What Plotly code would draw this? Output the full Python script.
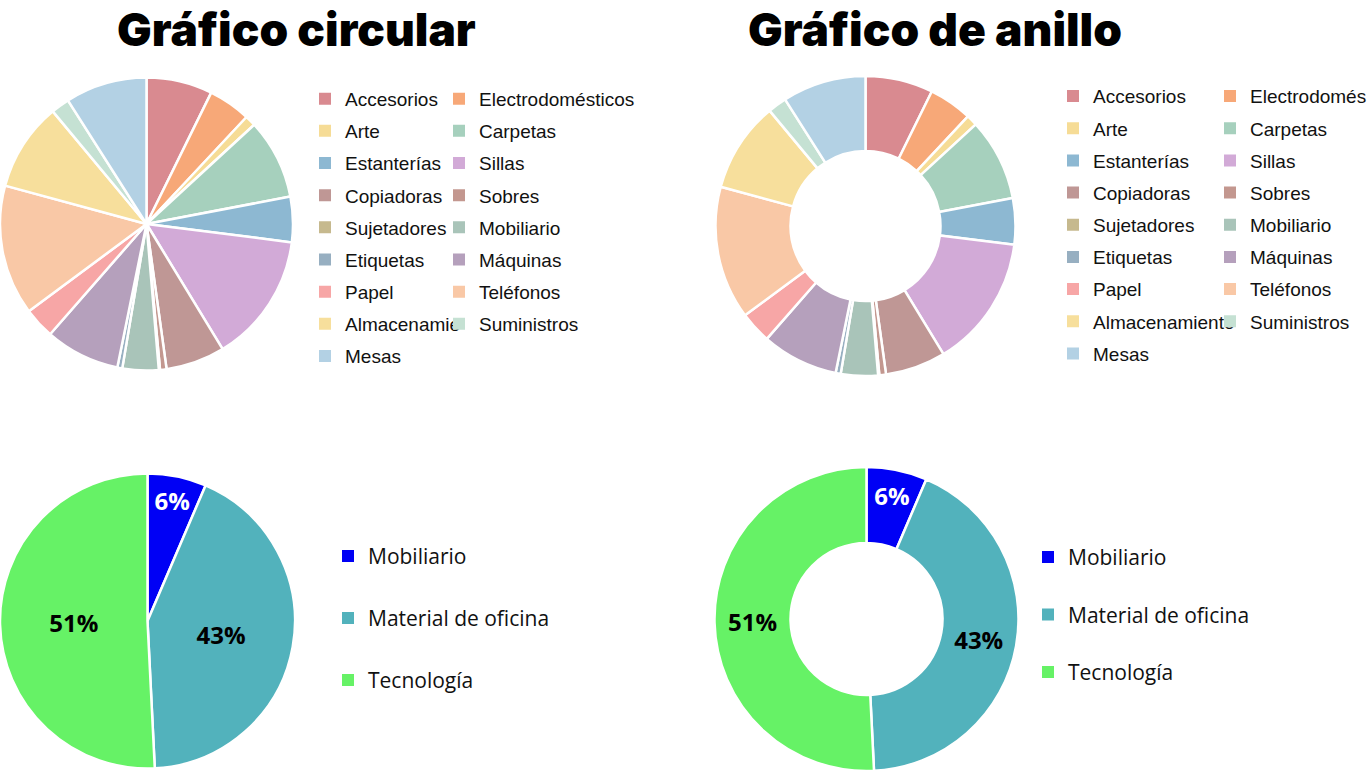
import plotly.graph_objects as go

W, H = 1369, 784

# ---------------- data ----------------
categories = ["Accesorios", "Electrodomésticos", "Arte", "Carpetas", "Estanterías",
              "Sillas", "Copiadoras", "Sobres", "Sujetadores", "Mobiliario",
              "Etiquetas", "Máquinas", "Papel", "Teléfonos", "Almacenamiento",
              "Suministros", "Mesas"]
sales = [167380, 107532, 27119, 203413, 114880, 328449, 149528, 16476, 3024,
         91705, 12486, 189239, 78479, 330007, 223844, 46674, 206966]
category_colors = ["#d98a90", "#f7a878", "#f6dc96", "#a6d0bd", "#8db8d2",
                   "#d2aad7", "#bf9795", "#c3978f", "#c6b98e", "#a9c4b9",
                   "#97afc1", "#b5a0bc", "#f7a6a6", "#f9c8a6", "#f7df9c",
                   "#c5e1d3", "#b3d1e4"]
# legend texts as they appear (cut by the column width / page edge)
legend_text_pie = ["Accesorios", "Electrodomésticos", "Arte", "Carpetas", "Estanterías",
                   "Sillas", "Copiadoras", "Sobres", "Sujetadores", "Mobiliario",
                   "Etiquetas", "Máquinas", "Papel", "Teléfonos", "Almacenamie",
                   "Suministros", "Mesas"]
legend_text_donut = ["Accesorios", "Electrodomés", "Arte", "Carpetas", "Estanterías",
                     "Sillas", "Copiadoras", "Sobres", "Sujetadores", "Mobiliario",
                     "Etiquetas", "Máquinas", "Papel", "Teléfonos", "Almacenamiento",
                     "Suministros", "Mesas"]

groups = ["Mobiliario", "Material de oficina", "Tecnología"]
profit = [18451, 122491, 145455]
group_colors = ["#0000f5", "#52b2bc", "#66f266"]
group_text_colors = ["white", "black", "black"]

titles = ["Gráfico circular", "Gráfico de anillo"]

# ---------------- helpers ----------------
def px_domain(cx, cy, r):
    """domain (paper fractions) for a pie centred at pixel (cx, cy) with radius r"""
    return dict(x=[max(0, (cx - r) / W), min(1, (cx + r) / W)],
                y=[max(0, 1 - (cy + r) / H), min(1, 1 - (cy - r) / H)])

def tiny_domain(cx, cy):
    fx, fy = cx / W, 1 - cy / H
    return dict(x=[fx - 1e-5, fx + 1e-5], y=[fy - 1e-5, fy + 1e-5])

def legend_entries(labels, values, colors, legend_id, cx, cy, prefix):
    out = []
    for i, (lab, val, col) in enumerate(zip(labels, values, colors)):
        out.append(go.Pie(labels=[lab], values=[val],
                          marker=dict(colors=[col], line=dict(width=0)),
                          domain=tiny_domain(cx, cy), textinfo="none",
                          hoverinfo="skip", sort=False, showlegend=True,
                          legend=legend_id, legendgroup=f"{prefix}{i}"))
    return out

fig = go.Figure()

# legend-only entries (drawn first, hidden behind the main pies)
col1 = list(range(0, len(categories), 2))
col2 = list(range(1, len(categories), 2))
for legend_id, idx, texts, c in [("legend", col1, legend_text_pie, (146, 224)),
                                 ("legend2", col2, legend_text_pie, (146, 224)),
                                 ("legend3", col1, legend_text_donut, (866, 226)),
                                 ("legend4", col2, legend_text_donut, (866, 226))]:
    for t in legend_entries([texts[i] for i in idx], [sales[i] for i in idx],
                            [category_colors[i] for i in idx], legend_id, c[0], c[1],
                            legend_id + "_"):
        fig.add_trace(t)
for legend_id, c in [("legend5", (147, 621)), ("legend6", (866, 619))]:
    for t in legend_entries(groups, profit, group_colors, legend_id, c[0], c[1],
                            legend_id + "_"):
        fig.add_trace(t)

slice_line = dict(color="white", width=2.5)

# main pies
fig.add_trace(go.Pie(labels=categories, values=sales, sort=False, direction="clockwise",
                     marker=dict(colors=category_colors, line=slice_line),
                     textinfo="none", showlegend=False,
                     domain=px_domain(146.5, 224, 146.5)))
fig.add_trace(go.Pie(labels=categories, values=sales, sort=False, direction="clockwise",
                     hole=0.5, marker=dict(colors=category_colors, line=slice_line),
                     textinfo="none", showlegend=False,
                     domain=px_domain(865.5, 226, 150)))

pct_font = dict(family="Open Sans", size=24, weight=700, color=group_text_colors)
fig.add_trace(go.Pie(labels=groups, values=profit, sort=False, direction="clockwise",
                     marker=dict(colors=group_colors, line=slice_line),
                     texttemplate="%{percent:.0%}", textposition="inside",
                     insidetextorientation="horizontal", insidetextfont=pct_font,
                     showlegend=False, domain=px_domain(147.5, 621, 147.5)))
fig.add_trace(go.Pie(labels=groups, values=profit, sort=False, direction="clockwise",
                     hole=0.5, marker=dict(colors=group_colors, line=slice_line),
                     texttemplate="%{percent:.0%}", textposition="inside",
                     insidetextorientation="horizontal", insidetextfont=pct_font,
                     showlegend=False, domain=px_domain(866.5, 619, 152)))

top_font = dict(family="Liberation Sans, Arial, sans-serif", size=19, color="#111111")
bot_font = dict(family="Open Sans, sans-serif", size=21, color="#111111")

def leg(x_px, y_px, font, gap):
    return dict(x=x_px / W, y=1 - y_px / H, xanchor="left", yanchor="top",
                orientation="v", font=font, tracegroupgap=gap,
                traceorder="grouped", bgcolor="rgba(0,0,0,0)", borderwidth=0)

title_font = dict(family="Inter, sans-serif", size=46, weight=900, color="#000000")

fig.update_layout(
    width=W, height=H,
    margin=dict(l=0, r=0, t=0, b=0, autoexpand=False),
    paper_bgcolor="white", plot_bgcolor="white",
    legend=leg(305, 79.8, top_font, 4.47),
    legend2=leg(439, 79.8, top_font, 4.47),
    legend3=leg(1053, 77.2, top_font, 4.47),
    legend4=leg(1210, 77.2, top_font, 4.47),
    legend5=leg(328, 535.85, bot_font, 31.7),
    legend6=leg(1028, 536.85, bot_font, 27.2),
    annotations=[
        dict(text=titles[0], x=296.5 / W, y=1, xref="paper", yref="paper",
             xanchor="center", yanchor="top", showarrow=False, font=title_font,
             borderpad=0),
        dict(text=titles[1], x=935 / W, y=1, xref="paper", yref="paper",
             xanchor="center", yanchor="top", showarrow=False, font=title_font,
             borderpad=0),
    ],
)

fig.write_html("out.html", config={"displayModeBar": False},
               post_script="document.body.style.margin='0px';")
